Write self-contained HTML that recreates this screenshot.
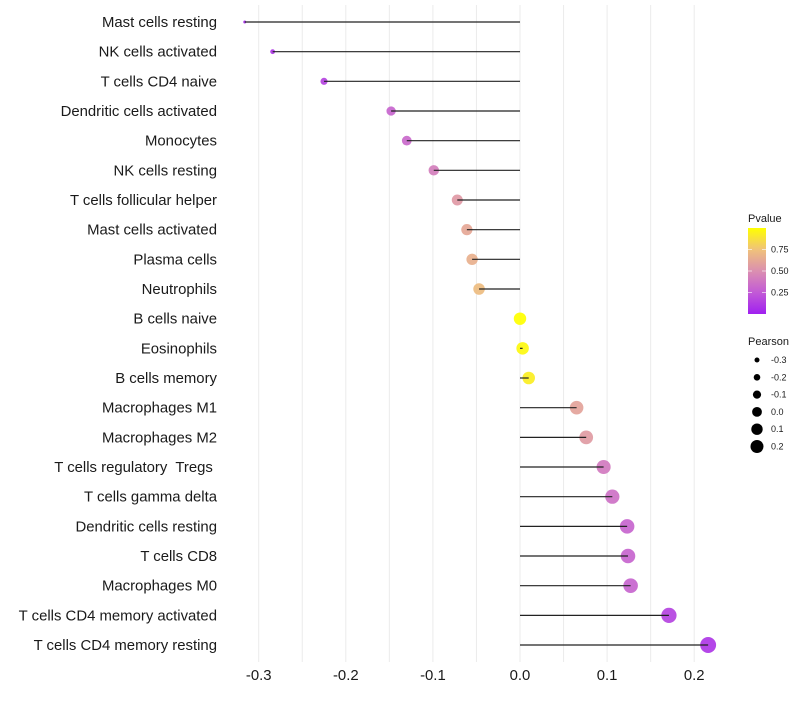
<!DOCTYPE html>
<html><head><meta charset="utf-8"><style>
body{margin:0;background:#fff;font-family:"Liberation Sans",sans-serif}
text{white-space:pre}
</style></head><body>
<svg id="c" width="800" height="700" xmlns="http://www.w3.org/2000/svg"></svg>
<script>
const categories=["Mast cells resting","NK cells activated","T cells CD4 naive","Dendritic cells activated","Monocytes","NK cells resting","T cells follicular helper","Mast cells activated","Plasma cells","Neutrophils","B cells naive","Eosinophils","B cells memory","Macrophages M1","Macrophages M2","T cells regulatory  Tregs ","T cells gamma delta","Dendritic cells resting","T cells CD8","Macrophages M0","T cells CD4 memory activated","T cells CD4 memory resting"];
const pearson=[-0.316,-0.284,-0.225,-0.148,-0.130,-0.099,-0.072,-0.061,-0.055,-0.047,0.0,0.003,0.010,0.065,0.076,0.096,0.106,0.123,0.124,0.127,0.171,0.216];
const pvalues=[0.05,0.1,0.15,0.3,0.32,0.42,0.55,0.62,0.66,0.72,1.0,0.97,0.93,0.6,0.56,0.4,0.36,0.3,0.3,0.3,0.15,0.1];
const xTicks=[-0.3,-0.2,-0.1,0.0,0.1,0.2];
const xTickLabels=["-0.3","-0.2","-0.1","0.0","0.1","0.2"];
const pTicks=[0.25,0.5,0.75];
const sizeTicks=[-0.3,-0.2,-0.1,0.0,0.1,0.2];
const NS="http://www.w3.org/2000/svg";
const svg=document.getElementById('c');
function mk(t,a,p){const e=document.createElementNS(NS,t);for(const k in a)e.setAttribute(k,a[k]);(p||svg).appendChild(e);return e;}
const x=v=>520+v*871;
const y=i=>22+i*29.667;
const r=v=>Math.sqrt(Math.max(0.5,2.25+(v+0.316)*115));
const lr=v=>2.5+(v+0.3)*8;
const stops=[[0,[160,32,240]],[0.25,[194,90,214]],[0.5,[219,143,176]],[0.75,[240,194,122]],[1,[255,255,0]]];
function col(p){for(let i=1;i<stops.length;i++){if(p<=stops[i][0]){const a=stops[i-1],b=stops[i],t=(p-a[0])/(b[0]-a[0]);return 'rgb('+a[1].map((c,j)=>Math.round(c+(b[1][j]-c)*t)).join(',')+')';}}return 'rgb(255,255,0)';}
for(let v=-0.3;v<=0.2001;v+=0.05){const l=mk('line',{x1:x(v),x2:x(v),y1:5,y2:662,stroke:'#ebebeb','stroke-width':1});

}
categories.forEach((c,i)=>{const t=mk('text',{x:217,y:y(i)+5,'text-anchor':'end','font-size':14.9,fill:'#1a1a1a'});t.textContent=c;

});
categories.forEach((c,i)=>{const v=pearson[i];
const p=mk('circle',{cx:x(v),cy:y(i),r:r(v),fill:col(pvalues[i]),'fill-opacity':0.92});


const s=mk('line',{x1:x(0),x2:x(v),y1:y(i),y2:y(i),stroke:'#222','stroke-width':1.2});

});
xTicks.forEach((v,i)=>{const t=mk('text',{x:x(v),y:680,'text-anchor':'middle','font-size':14.9,fill:'#1a1a1a'});t.textContent=xTickLabels[i];

});
const lt=mk('text',{x:748,y:222,'font-size':11,fill:'#1a1a1a'});lt.textContent='Pvalue';


const defs=mk('defs',{});const g=mk('linearGradient',{id:'pg',x1:0,y1:1,x2:0,y2:0},defs);
stops.forEach(s=>mk('stop',{offset:s[0],'stop-color':'rgb('+s[1].join(',')+')'},g));
const bar=mk('rect',{x:748,y:228,width:18,height:86,fill:'url(#pg)'});


pTicks.forEach(p=>{const yy=314-p*86;
mk('line',{x1:748,x2:752,y1:yy,y2:yy,stroke:'#fff','stroke-opacity':0.6});
mk('line',{x1:762,x2:766,y1:yy,y2:yy,stroke:'#fff','stroke-opacity':0.6});
const t=mk('text',{x:771,y:yy+3,'font-size':9,fill:'#1a1a1a'});t.textContent=p.toFixed(2);

});
const st=mk('text',{x:748,y:345,'font-size':11,fill:'#1a1a1a'});st.textContent='Pearson';


sizeTicks.forEach((v,i)=>{const yy=360+i*17.3;
const c=mk('circle',{cx:757,cy:yy,r:lr(v),fill:'#000'});


const t=mk('text',{x:771,y:yy+3,'font-size':9,fill:'#1a1a1a'});t.textContent=v.toFixed(1);

});
</script>
</body></html>
